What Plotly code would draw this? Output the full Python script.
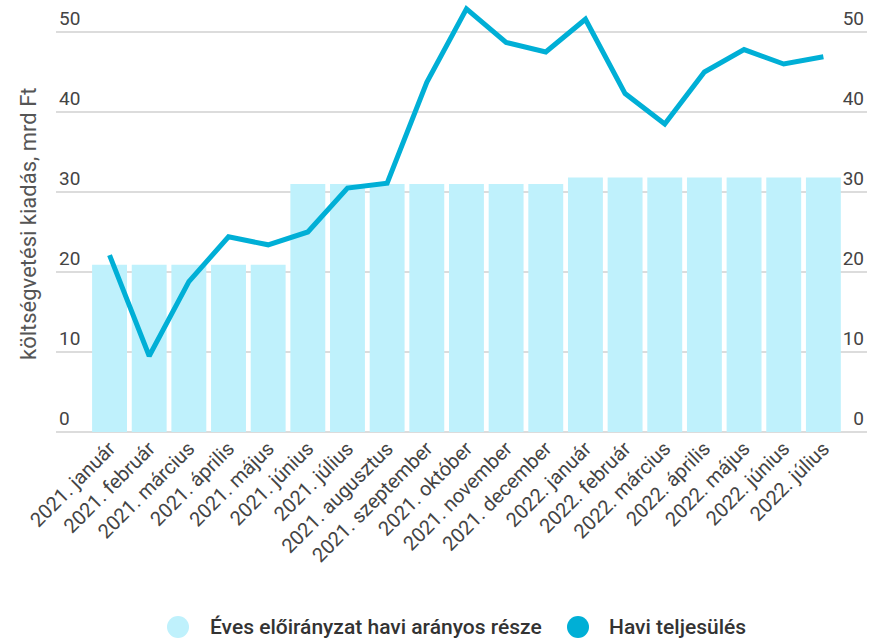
import plotly.graph_objects as go

categories = ["2021. január", "2021. február", "2021. március", "2021. április", "2021. május",
              "2021. június", "2021. július", "2021. augusztus", "2021. szeptember", "2021. október",
              "2021. november", "2021. december", "2022. január", "2022. február", "2022. március",
              "2022. április", "2022. május", "2022. június", "2022. július"]
eloiranyzat = [20.9, 20.9, 20.9, 20.9, 20.9,
               31.0, 31.0, 31.0, 31.0, 31.0, 31.0, 31.0,
               31.8, 31.8, 31.8, 31.8, 31.8, 31.8, 31.8]
teljesules = [22.1, 9.5, 18.8, 24.4, 23.4, 25.0, 30.5, 31.1, 43.7, 52.9,
              48.7, 47.5, 51.6, 42.3, 38.5, 45.0, 47.8, 46.0, 46.9]
y_ticks = [0, 10, 20, 30, 40, 50]
legend_names = ["Éves előirányzat havi arányos része", "Havi teljesülés"]
y_title = "költségvetési kiadás, mrd Ft"

BAR_COLOR = "#bff1fc"
LINE_COLOR = "#00afd6"
FONT = "Roboto"

L, R, T, B = 56, 6, 0, 209
W, H = 873, 641
PW, PH = W - L - R, H - T - B

def px_x(px):
    return (px - L) / PW

def px_y(py):
    return (H - B - py) / PH

fig = go.Figure()
fig.add_trace(go.Bar(x=categories, y=eloiranyzat, name=legend_names[0],
                     marker=dict(color=BAR_COLOR, line=dict(width=0)), showlegend=False))
fig.add_trace(go.Scatter(x=categories, y=teljesules, name=legend_names[1], mode="lines",
                         line=dict(color=LINE_COLOR, width=5), yaxis="y2", showlegend=False))

# custom legend (large circles + text)
legend_items = [(178, 208, BAR_COLOR, legend_names[0]), (578, 607, LINE_COLOR, legend_names[1])]
ly = px_y(627)
for cx, tx, col, name in legend_items:
    fig.add_shape(type="circle", xref="paper", yref="paper",
                  xsizemode="pixel", ysizemode="pixel",
                  xanchor=px_x(cx), yanchor=ly, x0=-11, x1=11, y0=-11, y1=11,
                  fillcolor=col, line=dict(width=0))
    fig.add_annotation(text=name, xref="paper", yref="paper", x=px_x(tx), y=ly,
                       xanchor="left", yanchor="middle", showarrow=False,
                       font=dict(family=FONT, size=21, color="#333333", weight=500))

# y-axis title
fig.add_annotation(text=y_title, xref="paper", yref="paper", x=px_x(28), y=px_y(224),
                   xanchor="center", yanchor="middle", textangle=-90, showarrow=False,
                   font=dict(family=FONT, size=22, color="#555555"))

fig.update_layout(
    width=W, height=H,
    margin=dict(l=L, r=R, t=T, b=B),
    paper_bgcolor="white", plot_bgcolor="white",
    font=dict(family=FONT, size=18, color="#444444"),
    bargap=0.12,
    showlegend=False,
    hovermode=False,
    xaxis=dict(type="category", range=[-1.35, 19.1], tickangle=-45, showgrid=False,
               showline=False, ticks="", automargin=False,
               tickfont=dict(size=20, color="#444444")),
    yaxis=dict(range=[0, 54], tickvals=y_ticks, ticklabelposition="inside top",
               gridcolor="#dcdcdc", gridwidth=1.5, zeroline=True, zerolinecolor="#dcdcdc",
               zerolinewidth=1.5, showline=False, ticks="", automargin=False,
               tickfont=dict(size=19, color="#444444")),
    yaxis2=dict(range=[0, 54], tickvals=y_ticks, overlaying="y", side="right",
                ticklabelposition="inside top", showgrid=False, zeroline=False, showline=False,
                ticks="", automargin=False, tickfont=dict(size=19, color="#444444")),
)

fig.write_html("out.html", config={"displayModeBar": False},
               post_script="document.body.style.margin='0px';")
